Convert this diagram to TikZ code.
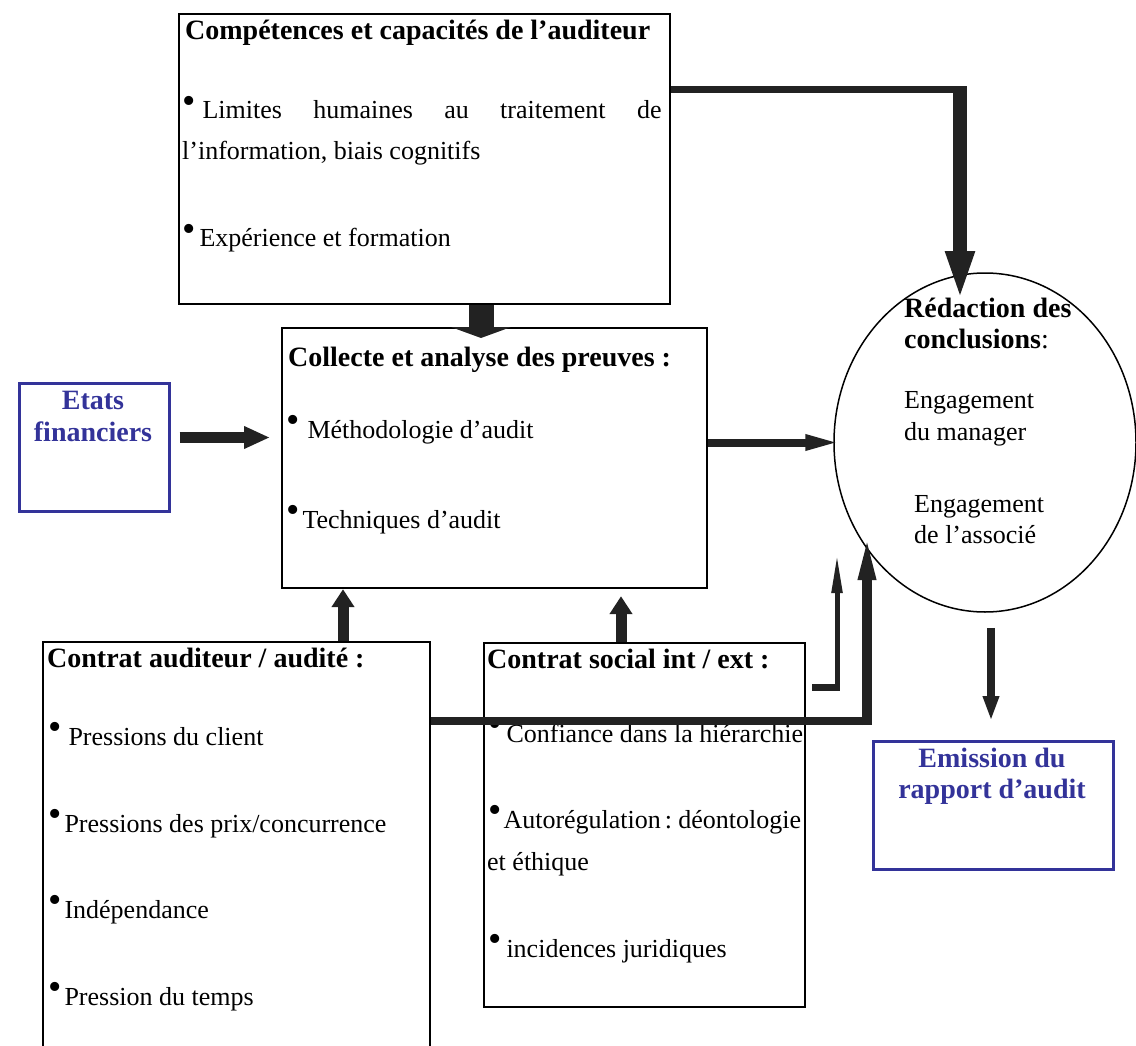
\documentclass[tikz,border=0pt]{standalone}
\usepackage{fontspec}
\setmainfont{Liberation Serif}
\usetikzlibrary{arrows.meta,shapes.geometric}

\definecolor{bleuaudit}{RGB}{51,51,153}
\definecolor{grisfleche}{RGB}{34,34,34}

\newcommand{\puce}{\raisebox{.22em}{\fontsize{38}{38}\selectfont\textbullet}}
\newcommand{\corps}{\fontsize{26}{32}\selectfont}
\newcommand{\titre}{\fontsize{28}{32}\selectfont\bfseries}

\tikzset{
  cadre/.style={draw, line width=2.2pt, inner sep=0pt, anchor=north west},
  cadrebleu/.style={draw=bleuaudit, line width=2.5pt, inner sep=0pt, anchor=north west},
  txt/.style={anchor=base west, inner sep=0pt, font=\corps},
  tete/.style={anchor=base west, inner sep=0pt, font=\titre},
  tetebleu/.style={anchor=base, inner sep=0pt, font=\titre, text=bleuaudit},
  fleche/.style n args={3}{draw=grisfleche, line width=#1, -{Triangle[width=#2,length=#3]}},
  trait/.style={draw=grisfleche, line width=#1},
}

\begin{document}
\begin{tikzpicture}[x=1pt,y=-1pt]

  \useasboundingbox (0,0) rectangle (1136,1046);
  \clip (0,0) rectangle (1136,1046);

  % cadres
  \node[cadre, minimum width=491pt, minimum height=290pt] (comp) at (178,13) {};
  \node[cadre, minimum width=425pt, minimum height=260pt] (coll) at (281,327) {};
  \node[cadrebleu, minimum width=150pt, minimum height=128pt] (etats) at (18,382) {};
  \node[cadre, minimum width=387pt, minimum height=430pt] (aud) at (42,641) {};
  \node[cadre, minimum width=321pt, minimum height=364pt] (soc) at (483,642) {};
  \node[cadrebleu, minimum width=240pt, minimum height=128pt] (emis) at (872,740) {};
  \node[draw, ellipse, line width=1.5pt, inner sep=0pt,
        minimum width=302pt, minimum height=339pt] (redac) at (985,442.5) {};

  % competences
  \node[tete] (comp-t) at (185,40) {Compétences et capacités de l’auditeur};
  \node[txt] (comp-a) at (182,119) {\puce\hspace{7pt}\hbox to 459pt{Limites\hfill humaines\hfill au\hfill traitement\hfill de}};
  \node[txt] (comp-b) at (182,160) {l’information, biais cognitifs};
  \node[txt] (comp-c) at (182,247) {\puce\hspace{4pt}Expérience et formation};

  % collecte
  \node[tete] (coll-t) at (288,366) {Collecte et analyse des preuves :};
  \node[txt] (coll-a) at (286,438) {\puce\hspace{8pt}Méthodologie d’audit};
  \node[txt] (coll-b) at (286,528) {\puce\hspace{3pt}Techniques d’audit};

  % etats financiers
  \node[tetebleu] (etats-a) at (93,409) {Etats};
  \node[tetebleu] (etats-b) at (93,441) {financiers};

  % contrat auditeur
  \node[tete] (aud-t) at (47,667) {Contrat auditeur / audité :};
  \node[txt] (aud-a) at (48,745) {\puce\hspace{7pt}Pressions du client};
  \node[txt] (aud-b) at (48,832) {\puce\hspace{3pt}Pressions des prix/concurrence};
  \node[txt] (aud-c) at (48,918) {\puce\hspace{3pt}Indépendance};
  \node[txt] (aud-d) at (48,1005) {\puce\hspace{3pt}Pression du temps};

  % contrat social
  \node[tete] (soc-t) at (487,668) {Contrat social int / ext :};
  \node[txt] (soc-a) at (488,742) {\puce\hspace{5pt}Confiance dans la hiérarchie};
  \node[txt] (soc-b) at (488,828) {\puce\hspace{2pt}{\spaceskip=4pt Autorégulation : déontologie}};
  \node[txt] (soc-c) at (487,870) {et éthique};
  \node[txt] (soc-d) at (488,957) {\puce\hspace{5pt}incidences juridiques};

  % redaction
  \node[tete] (redac-a) at (904,317) {Rédaction des};
  \node[tete] (redac-b) at (904,348) {conclusions{\mdseries:}};
  \node[txt] (redac-c) at (904,408) {Engagement};
  \node[txt] (redac-d) at (904,440) {du manager};
  \node[txt] (redac-e) at (914,512) {Engagement};
  \node[txt] (redac-f) at (914,543) {de l’associé};

  % emission
  \node[tetebleu] (emis-a) at (992,767) {Emission du};
  \node[tetebleu] (emis-b) at (992,798) {rapport d’audit};

  % fleches
  \coordinate (coude) at (967,90);
  \coordinate (pointe) at (960,301);
  \draw[trait=7pt] (comp.east |- coude) -- (coude);
  \draw[fleche={14pt}{26pt}{50pt}] (960,87) -- (pointe);

  \draw[fleche={25pt}{60pt}{11pt}, shorten >=-11pt] (comp.south -| 481,0) -- (coll.north -| 481,0);
  \draw[fleche={11pt}{21pt}{26pt}, shorten <=9pt, shorten >=11pt] (etats.east |- 0,437.5) -- (coll.west |- 0,437.5);
  \draw[fleche={8pt}{14pt}{37pt}, shorten >=-9pt] (coll.east |- redac.west) -- (redac.west);

  \draw[fleche={11pt}{22pt}{18pt}] (aud.north -| 343,0) -- (coll.south -| 343,0);
  \draw[fleche={11pt}{22pt}{18pt}, shorten >=7pt] (soc.north -| 621,0) -- (coll.south -| 621,0);

  \coordinate (angle) at (872,721);
  \draw[trait=8pt] (aud.east |- angle) -- (angle);
  \draw[fleche={10pt}{15pt}{53pt}] (867,725) -- (867,527);

  \coordinate (angle2) at (840,687);
  \draw[trait=7pt, shorten <=6pt] (soc.east |- angle2) -- (angle2);
  \draw[fleche={5pt}{10pt}{40pt}] (837,690) -- (837,553);

  \draw[fleche={8pt}{15pt}{25pt}, shorten <=15pt, shorten >=19pt] (redac.south -| 991,0) -- (emis.north -| 991,0);

\end{tikzpicture}
\end{document}
